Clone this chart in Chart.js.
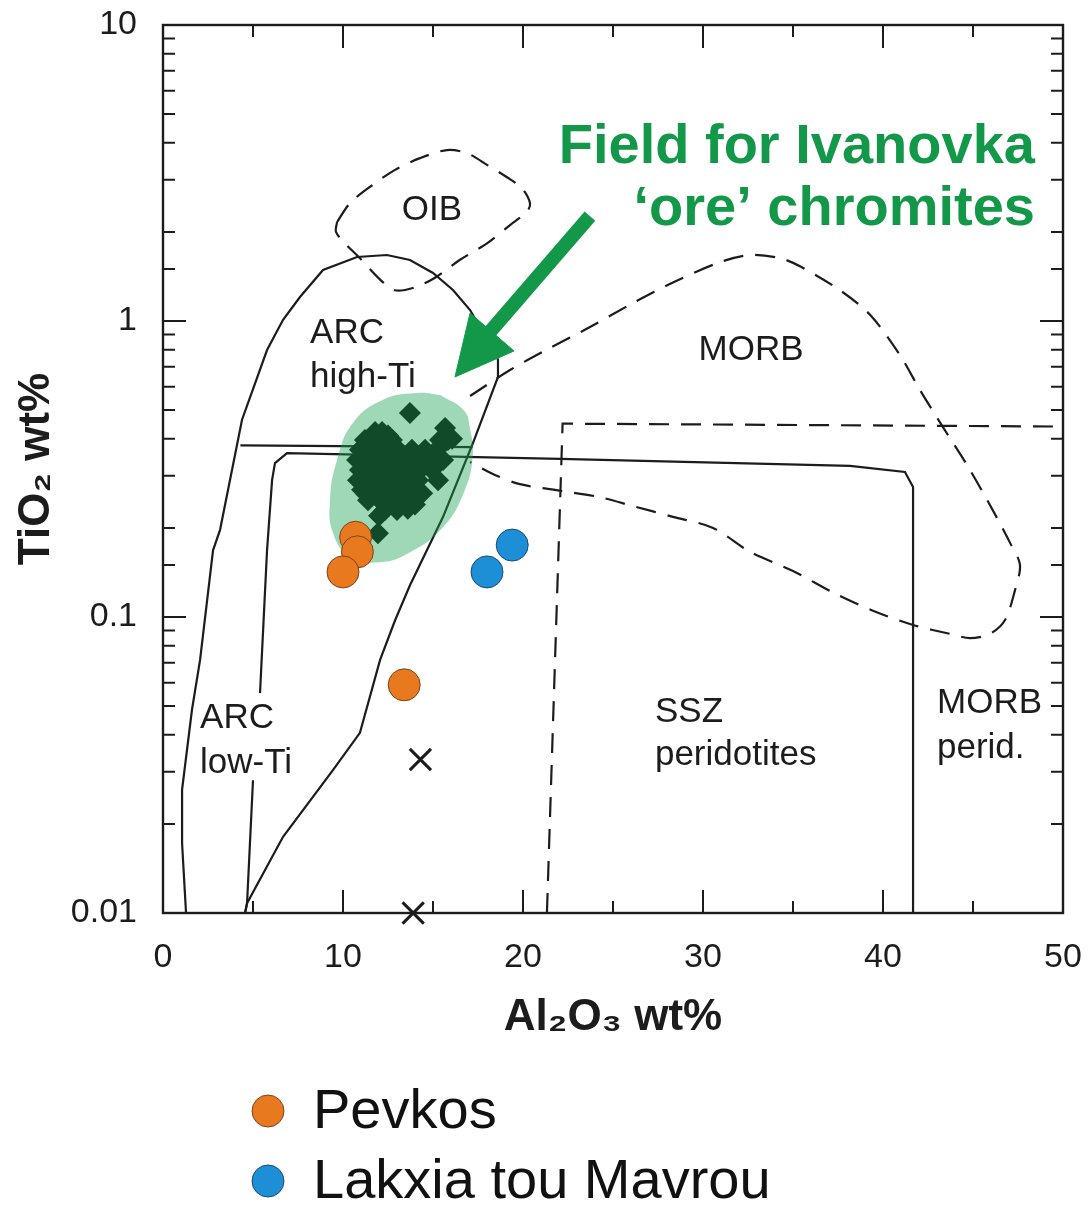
<!DOCTYPE html>
<html>
<head>
<meta charset="utf-8">
<title>TiO2 vs Al2O3 – chromite discrimination</title>
<script src="https://cdn.jsdelivr.net/npm/chart.js@4.4.0/dist/chart.umd.min.js"></script>
<style>
  html, body { margin: 0; padding: 0; background: #fff; }
  canvas { display: block; }
</style>
</head>
<body>
<canvas id="chart" width="1089" height="1205"></canvas>
<script>
// samples
const pevkosAl = [10.7, 10.8, 10.0, 13.4];
const pevkosTi = [0.186, 0.166, 0.142, 0.059];
const lakxiaAl = [19.4, 18.0];
const lakxiaTi = [0.175, 0.142];
const crossAl = [14.3, 13.9];
const crossTi = [0.033, 0.01];

// Ivanovka ore chromites (diamonds)
const ivanovkaAl = [
  11.78, 12.17, 12.5,
  11.22, 11.94, 12.72, 15.39, 15.83,
  10.94, 11.61, 12.33, 13.06, 13.83, 14.56, 15.22,
  10.78, 11.39, 12.06, 12.72, 13.44, 14.17, 14.83, 15.56,
  10.94, 11.61, 12.28, 12.94, 13.61, 14.28, 14.94,
  10.83, 11.5, 12.17, 12.83, 13.5, 14.17, 15.28,
  11.06, 11.72, 12.39, 13.06, 13.72, 14.4,
  11.39, 12.06, 12.72, 13.39, 14.0,
  12.33, 13.0, 13.6,
  13.72, 11.94, 15.67, 16.06, 11.3, 12.0
];
const ivanovkaTi = [
  0.422, 0.422, 0.41,
  0.396, 0.396, 0.396, 0.396, 0.396,
  0.367, 0.367, 0.367, 0.367, 0.367, 0.367, 0.367,
  0.339, 0.339, 0.339, 0.339, 0.339, 0.339, 0.339, 0.339,
  0.314, 0.314, 0.314, 0.314, 0.314, 0.314, 0.314,
  0.290, 0.290, 0.290, 0.290, 0.290, 0.290, 0.290,
  0.269, 0.269, 0.269, 0.269, 0.269, 0.262,
  0.248, 0.248, 0.248, 0.248, 0.24,
  0.230, 0.230, 0.232,
  0.489, 0.192, 0.435, 0.40, 0.26, 0.22
];

// green field outline
const fieldAl = [15.4, 16.7, 17.05, 17.2, 16.7, 15.55, 13.7, 12.05, 10.4, 9.45, 9.28, 9.67, 10.55, 12.2, 14.1, 15.4];
const fieldTi = [0.562, 0.50, 0.435, 0.347, 0.262, 0.201, 0.165, 0.153, 0.160, 0.192, 0.248, 0.339, 0.452, 0.541, 0.571, 0.562];

// field boundaries
const arcAl = [1.28, 1.06, 1.06, 1.61, 2.06, 2.78, 3.17, 4.39, 5.78, 6.67, 7.61, 8.89, 10.78, 12.44, 13.72, 15.0, 16.11, 17.06, 17.61, 18.39, 18.61, 18.61, 17.22, 15.56, 13.72, 12.9, 12.06, 10.94, 9.44, 6.67, 4.67, 4.56];
const arcTi = [0.01, 0.0172, 0.0261, 0.0486, 0.0716, 0.168, 0.197, 0.464, 0.798, 1.01, 1.205, 1.487, 1.645, 1.671, 1.607, 1.453, 1.273, 1.089, 0.954, 0.829, 0.738, 0.647, 0.387, 0.218, 0.128, 0.0977, 0.0716, 0.0406, 0.0304, 0.0181, 0.0108, 0.01];
const splitAl = [4.3, 17.2];
const splitTi = [0.38, 0.375];
const peridAl = [4.56, 4.67, 5.0, 5.2, 5.39, 5.78, 6.06, 6.22, 6.89, 22.06, 38.17, 41.22, 41.67, 41.67];
const peridTi = [0.01, 0.0108, 0.0281, null, 0.0553, 0.168, 0.290, 0.331, 0.358, 0.342, 0.324, 0.309, 0.275, 0.01];
const sszAl = [21.33, 22.2, 50];
const sszTi = [0.01, 0.45, 0.44];
const oibAl = [9.67, 10.39, 11.5, 12.89, 14.28, 15.78, 16.89, 18.0, 19.11, 19.94, 20.39, 20.22, 19.28, 18.0, 16.5, 15.11, 14.0, 12.89, 12.06, 10.94, 10.11, 9.61, 9.67];
const oibTi = [2.16, 2.50, 2.84, 3.24, 3.55, 3.78, 3.69, 3.37, 3.06, 2.81, 2.50, 2.34, 2.11, 1.83, 1.61, 1.40, 1.30, 1.27, 1.38, 1.63, 1.83, 2.00, 2.16];
const morbAl = [17.06, 19.28, 21.5, 23.72, 26.11, 28.33, 30.94, 32.61, 34.28, 35.39, 37.61, 39.28, 40.94, 42.06, 43.33, 44.67, 45.94, 47.06, 47.61, 47.33, 46.78, 45.94, 44.83, 43.72, 41.67, 39.44, 37.22, 35.0, 32.61, 30.56, 28.33, 26.11, 24.28, 22.06, 19.83, 18.44, 17.06];
const morbTi = [0.558, 0.683, 0.811, 0.954, 1.15, 1.35, 1.58, 1.67, 1.63, 1.53, 1.27, 1.05, 0.767, 0.584, 0.438, 0.326, 0.239, 0.178, 0.150, 0.123, 0.0977, 0.0877, 0.0849, 0.0877, 0.094, 0.105, 0.121, 0.143, 0.166, 0.200, 0.218, 0.237, 0.254, 0.267, 0.281, 0.302, 0.334];

// arrow pointing at the field
const arrowAl = [23.72, 17.9];
const arrowTi = [2.26, 0.88];
const headAl = [16.22, 17.06, 19.5, 16.22];
const headTi = [0.647, 1.064, 0.792, 0.647];

// ticks
const xMajorTicks = [0, 10, 20, 30, 40, 50];
const xMinorTicks = [5, 15, 25, 35, 45];

// labels in the plot
const regionText = ['OIB', 'ARC', 'high-Ti', 'MORB', 'ARC', 'low-Ti', 'SSZ', 'peridotites', 'MORB', 'perid.'];
const regionAl   = [14.94, 8.17, 8.17, 32.67, 2.06, 2.06, 27.33, 27.33, 43.0, 43.0];
const regionTi   = [2.37, 0.911, 0.647, 0.798, 0.0456, 0.0321, 0.0478, 0.0342, 0.0512, 0.0361];
const regionAlign = ['center', 'left', 'left', 'center', 'left', 'left', 'left', 'left', 'left', 'left'];
const noteLines = ['Field for Ivanovka', '\u2018ore\u2019 chromites'];
const noteTi = [3.42, 2.11];
const noteAl = 48.44;

const ink = '#1c1c1c';
const fam = "'Liberation Sans', Arial, Helvetica, sans-serif";
Chart.defaults.font.family = fam;

function pts(xs, ys) {
  return xs.map((v, i) => ({ x: v, y: ys[i] }));
}

function isDecade(v) {
  const l = Math.log10(v);
  return Math.abs(l - Math.round(l)) < 1e-6;
}

function boundary(xs, ys, dashed, extra) {
  return Object.assign({
    data: pts(xs, ys),
    showLine: true,
    pointRadius: 0,
    borderColor: ink,
    borderWidth: 2.2,
    borderDash: dashed ? [20, 12] : [],
    tension: 0,
    spanGaps: false,
    fill: false
  }, extra || {});
}

// keep the plot box where the layout padding puts it
function noOverflow(s) {
  s.paddingTop = 0;
  s.paddingBottom = 0;
  s.paddingLeft = 0;
  s.paddingRight = 0;
}

const frameAndTicks = {
  id: 'frameAndTicks',
  beforeDatasetsDraw(chart) {
    const { ctx, chartArea: a, scales: { x, y } } = chart;
    ctx.save();
    ctx.strokeStyle = ink;
    ctx.lineWidth = 2.4;
    ctx.strokeRect(a.left, a.top, a.right - a.left, a.bottom - a.top);
    ctx.lineWidth = 2;
    ctx.beginPath();
    const xTick = (v, len) => {
      const px = x.getPixelForValue(v);
      ctx.moveTo(px, a.bottom); ctx.lineTo(px, a.bottom - len);
      ctx.moveTo(px, a.top); ctx.lineTo(px, a.top + len);
    };
    xMajorTicks.forEach(v => xTick(v, 23));
    xMinorTicks.forEach(v => xTick(v, 12));
    y.ticks.forEach(t => {
      const len = isDecade(t.value) ? 23 : 12;
      const py = y.getPixelForValue(t.value);
      ctx.moveTo(a.left, py); ctx.lineTo(a.left + len, py);
      ctx.moveTo(a.right, py); ctx.lineTo(a.right - len, py);
    });
    ctx.stroke();

    // field names
    ctx.fillStyle = ink;
    ctx.font = '35px ' + fam;
    ctx.textBaseline = 'middle';
    regionText.forEach((t, i) => {
      ctx.textAlign = regionAlign[i];
      ctx.fillText(t, x.getPixelForValue(regionAl[i]), y.getPixelForValue(regionTi[i]));
    });

    // green note
    ctx.fillStyle = '#13984a';
    ctx.font = 'bold 56px ' + fam;
    ctx.textAlign = 'right';
    ctx.textBaseline = 'alphabetic';
    noteLines.forEach((t, i) => {
      ctx.fillText(t, x.getPixelForValue(noteAl), y.getPixelForValue(noteTi[i]));
    });
    ctx.restore();
  }
};

const sampleLegend = {
  id: 'sampleLegend',
  afterDraw(chart) {
    const { ctx } = chart;
    ctx.save();
    [0, 1].forEach(i => {
      const ds = chart.data.datasets[i];
      const cy = 1111 + i * 70;
      ctx.beginPath();
      ctx.arc(268, cy, 16, 0, Math.PI * 2);
      ctx.fillStyle = ds.backgroundColor;
      ctx.fill();
      ctx.lineWidth = 1;
      ctx.strokeStyle = ds.borderColor;
      ctx.stroke();
      ctx.fillStyle = '#111';
      ctx.font = '56px ' + fam;
      ctx.textAlign = 'left';
      ctx.textBaseline = 'middle';
      ctx.fillText(ds.label, 313, cy + 2);
    });
    ctx.restore();
  }
};

new Chart(document.getElementById('chart'), {
  type: 'scatter',
  data: {
    datasets: [
      {
        label: 'Pevkos',
        data: pts(pevkosAl, pevkosTi),
        backgroundColor: '#e8791f',
        borderColor: '#7a4418',
        borderWidth: 1,
        pointRadius: 16
      },
      {
        label: 'Lakxia tou Mavrou',
        data: pts(lakxiaAl, lakxiaTi),
        backgroundColor: '#1c8fd6',
        borderColor: '#1d4a6e',
        borderWidth: 1,
        pointRadius: 16
      },
      {
        label: 'x',
        data: pts(crossAl, crossTi),
        pointStyle: 'crossRot',
        pointRadius: 15,
        borderColor: ink,
        borderWidth: 3,
        clip: false
      },
      {
        label: 'Ivanovka field',
        data: pts(fieldAl, fieldTi),
        showLine: true,
        pointRadius: 0,
        borderWidth: 0,
        borderColor: 'rgba(0,0,0,0)',
        backgroundColor: 'rgba(24,163,82,0.42)',
        tension: 0.45,
        fill: 'shape'
      },
      boundary(arrowAl, arrowTi, false, { borderColor: '#13984a', borderWidth: 14 }),
      boundary(headAl, headTi, false, { borderColor: '#13984a', borderWidth: 1, backgroundColor: '#13984a', fill: 'shape' }),
      {
        label: 'Ivanovka',
        data: pts(ivanovkaAl, ivanovkaTi),
        pointStyle: 'rectRot',
        pointRadius: 11,
        backgroundColor: '#0c0c0c',
        borderWidth: 0
      },
      boundary(arcAl, arcTi, false),
      boundary(splitAl, splitTi, false),
      boundary(peridAl, peridTi, false),
      boundary(sszAl, sszTi, true),
      boundary(oibAl, oibTi, true, { tension: 0.3 }),
      boundary(morbAl, morbTi, true, { tension: 0.3 })
    ]
  },
  options: {
    responsive: false,
    animation: false,
    events: [],
    devicePixelRatio: 1,
    layout: { padding: { top: 25, right: 26, bottom: 152, left: 0 } },
    plugins: {
      legend: { display: false },
      tooltip: { enabled: false }
    },
    scales: {
      x: {
        type: 'linear',
        min: 0,
        max: 50,
        afterFit: s => { s.height = 140; noOverflow(s); },
        grid: { display: false, drawTicks: false },
        border: { display: false },
        ticks: {
          stepSize: 10,
          padding: 24,
          color: ink,
          font: { size: 34 }
        },
        title: {
          display: true,
          text: 'Al\u2082O\u2083 wt%',
          color: ink,
          font: { size: 44, weight: 'bold' },
          padding: { top: 0, bottom: 9 }
        }
      },
      y: {
        type: 'logarithmic',
        min: 0.01,
        max: 10,
        afterFit: s => { s.width = 163; noOverflow(s); },
        grid: { display: false, drawTicks: false },
        border: { display: false },
        ticks: {
          padding: 26,
          color: ink,
          font: { size: 34 },
          autoSkip: false,
          callback: v => isDecade(v) ? String(Number(v.toPrecision(3))) : ''
        },
        title: {
          display: true,
          text: 'TiO\u2082 wt%',
          color: ink,
          font: { size: 44, weight: 'bold' },
          padding: { top: 10, bottom: 0 }
        }
      }
    }
  },
  plugins: [frameAndTicks, sampleLegend]
});
</script>
</body>
</html>
